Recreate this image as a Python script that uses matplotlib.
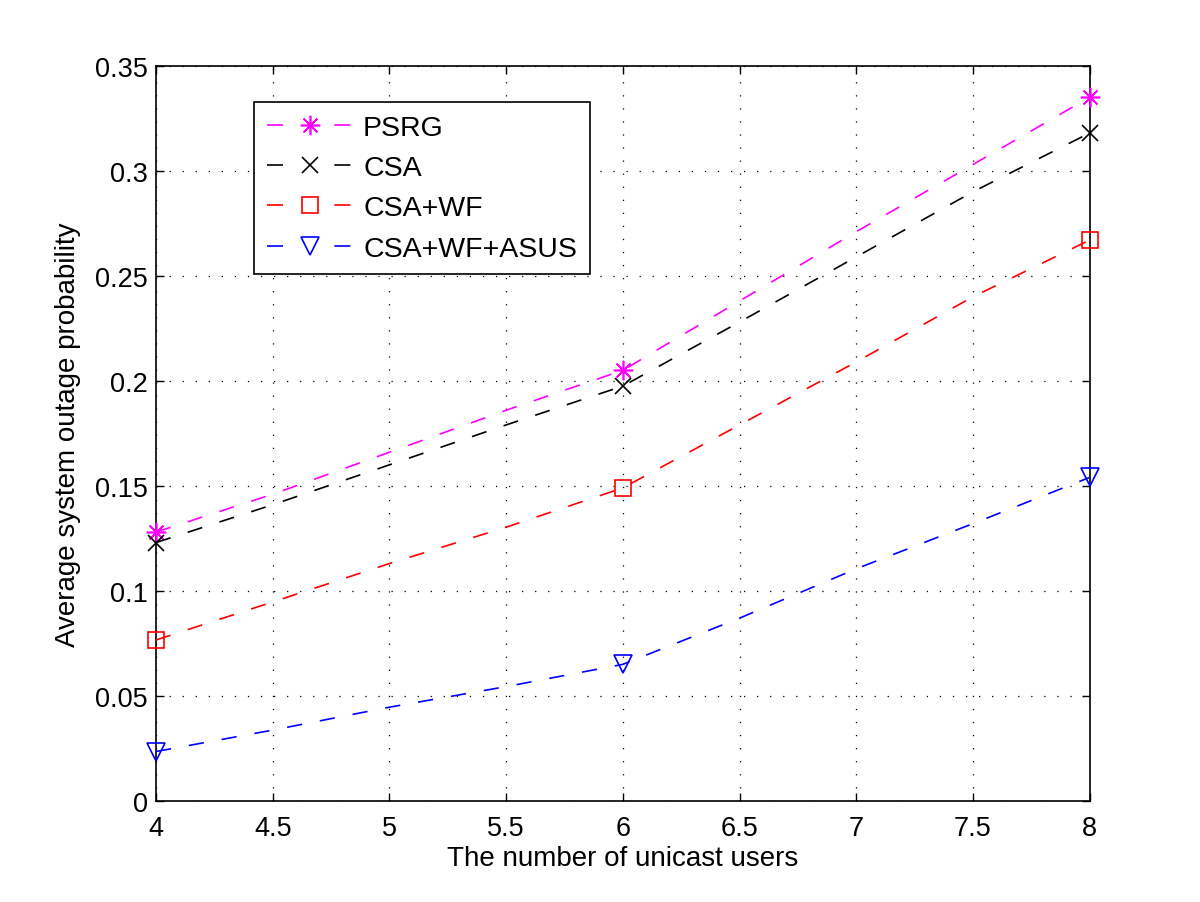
import matplotlib
matplotlib.use('Agg')
import matplotlib.pyplot as plt
from matplotlib.lines import Line2D

plt.rcParams['font.family'] = ['Liberation Sans', 'DejaVu Sans']
plt.rcParams['lines.scale_dashes'] = False

# values at every half step, markers only at 4, 6, 8
users = [4.0, 4.5, 5.0, 5.5, 6.0, 6.5, 7.0, 7.5, 8.0]
psrg = [0.128, 0.146, 0.166, 0.186, 0.205, 0.238, 0.271, 0.303, 0.335]
csa = [0.123, 0.141, 0.160, 0.179, 0.1975, 0.228, 0.259, 0.290, 0.318]
csa_wf = [0.0766, 0.0947, 0.113, 0.1303, 0.149, 0.179, 0.209, 0.240, 0.267]
csa_wf_asus = [0.0235, 0.0337, 0.0446, 0.0544, 0.065, 0.087, 0.1105, 0.132, 0.154]
marker_idx = [0, 4, 8]

labels = ['PSRG', 'CSA', 'CSA+WF', 'CSA+WF+ASUS']
colors = ['#ff00ff', 'black', '#ff0000', '#0000ff']
markers = [(8, 2, 0), 'x', 's', 'v']
msizes = [14, 11, 11, 13]

x_ticks = [4, 4.5, 5, 5.5, 6, 6.5, 7, 7.5, 8]
x_ticklabels = ['4', '4.5', '5', '5.5', '6', '6.5', '7', '7.5', '8']
y_ticks = [0, 0.05, 0.1, 0.15, 0.2, 0.25, 0.3, 0.35]
y_ticklabels = ['0', '0.05', '0.1', '0.15', '0.2', '0.25', '0.3', '0.35']

fig = plt.figure(figsize=(12, 9.03), dpi=100)
ax = fig.add_axes([0.13, 0.112, 0.778, 0.814])

series = [psrg, csa, csa_wf, csa_wf_asus]
handles = []
for vals, lab, c, m, ms in zip(series, labels, colors, markers, msizes):
    ax.plot(users, vals, color=c, lw=1.2, dashes=(11, 13),
            marker=m, markevery=marker_idx, ms=ms, mfc='none', mec=c,
            mew=1.2, clip_on=False, zorder=3)
    handles.append(Line2D([], [], color=c, lw=1.2, dashes=(11.5, 37),
                          marker=m, ms=ms, mfc='none', mec=c, mew=1.2))

ax.set_xlim(4, 8)
ax.set_ylim(0, 0.35)
ax.set_xticks(x_ticks)
ax.set_xticklabels(x_ticklabels)
ax.set_yticks(y_ticks)
ax.set_yticklabels(y_ticklabels)
ax.tick_params(direction='in', length=6, width=1, top=True, right=True,
               labelsize=19.5)
ax.tick_params(axis='x', pad=10)
ax.tick_params(axis='y', pad=6)
for s in ax.spines.values():
    s.set_linewidth(1.2)

ax.grid(True, color='black', lw=0.9, linestyle=(0, (0.9, 8.5)))
ax.set_axisbelow(True)

ax.set_xlabel('The number of unicast users', fontsize=20, labelpad=3)
ax.set_ylabel('Average system outage probability', fontsize=20, labelpad=10)

leg = fig.legend(handles, labels, loc='upper left',
                 bbox_to_anchor=(254 / 1200, 1 - 103 / 903),
                 borderaxespad=0, fontsize=20.5, handlelength=3.0,
                 handletextpad=0.38, labelspacing=0.5, borderpad=0.45,
                 numpoints=1, fancybox=False, framealpha=1,
                 edgecolor='black')
leg.get_frame().set_linewidth(1.2)

plt.savefig('out.png', dpi=100)
